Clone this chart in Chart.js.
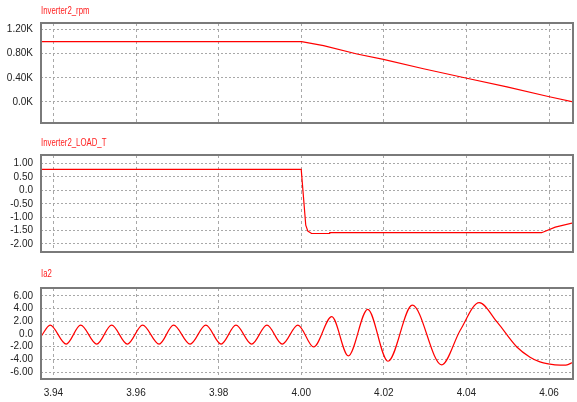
<!DOCTYPE html>
<html>
<head>
<meta charset="utf-8">
<script src="https://cdn.jsdelivr.net/npm/chart.js@4"></script>
<style>
  body { margin: 0; background: #fff; }
  #wrap { position: relative; width: 577px; height: 402px; overflow: hidden; }
  canvas { position: absolute; left: 0; }
  .ttl { position: absolute; left: 41px; font: 10px "Liberation Sans", sans-serif; color: #ff2020; line-height: 12px;
         transform: scaleX(0.78); transform-origin: left center; white-space: nowrap; }
</style>
</head>
<body>
<div id="wrap">
  <canvas id="c1" width="577" height="137" style="top:0"></canvas>
  <canvas id="c2" width="577" height="140" style="top:126px"></canvas>
  <canvas id="c3" width="577" height="146" style="top:256px"></canvas>
  <div class="ttl" style="top:5px">Inverter2_rpm</div>
  <div class="ttl" style="top:137px">Inverter2_LOAD_T</div>
  <div class="ttl" style="top:268px">Ia2</div>
</div>
<script>
// shared time axis
const xTicks = [3.94, 3.96, 3.98, 4.00, 4.02, 4.04, 4.06];
const xLabels = ["3.94", "3.96", "3.98", "4.00", "4.02", "4.04", "4.06"];

// Inverter2_rpm
const rpmTime = [3.937, 4.0001, 4.0054, 4.0135, 4.0199, 4.0296, 4.0401, 4.0498, 4.0598, 4.0659];
const rpmValue = [1000, 1000, 935, 795, 705, 550, 393, 250, 90, 0];
const rpmTicks = [0, 400, 800, 1200];
const rpmLabels = ["0.0K", "0.40K", "0.80K", "1.20K"];

// Inverter2_LOAD_T
const loadTime = [3.937, 4.0000, 4.0011, 4.0016, 4.0025, 4.0068, 4.0069, 4.0582, 4.0615, 4.0659];
const loadValue = [0.78, 0.78, -1.30, -1.52, -1.61, -1.61, -1.58, -1.58, -1.37, -1.21];
const loadTicks = [-2, -1.5, -1, -0.5, 0, 0.5, 1];
const loadLabels = ["-2.00", "-1.50", "-1.00", "-0.50", "0.0", "0.50", "1.00"];

// Ia2
const iaTime = [3.9371, 3.9392, 3.9431, 3.9466, 3.9505, 3.9541, 3.9579, 3.9616, 3.9656,
  3.9691, 3.9731, 3.9769, 3.9806, 3.9842, 3.9880, 3.9917, 3.9954, 3.9992, 4.0030,
  4.0074, 4.0114, 4.0161, 4.0210, 4.0269, 4.0340, 4.0385, 4.0431, 4.0474, 4.0522,
  4.0554, 4.0578, 4.0598, 4.0627, 4.0641, 4.0658];
const iaValue = [-0.3, 1.4, -1.6, 1.4, -1.6, 1.4, -1.6, 1.4, -1.6,
  1.4, -1.6, 1.4, -1.6, 1.4, -1.6, 1.4, -1.6, 1.4, -2.05,
  2.75, -3.45, 3.9, -4.3, 4.55, -4.88, 0.6, 4.96, 1.9, -2.05,
  -3.65, -4.4, -4.7, -4.9, -4.9, -4.45];
const iaTicks = [-6, -4, -2, 0, 2, 4, 6];
const iaLabels = ["-6.00", "-4.00", "-2.00", "0.0", "2.00", "4.00", "6.00"];

const tickFont = { family: "'Liberation Sans', sans-serif", size: 10 };

const framePlugin = {
  id: "frame",
  afterDraw(chart) {
    const a = chart.chartArea, ctx = chart.ctx;
    ctx.save();
    ctx.strokeStyle = "#7a7a7a";
    ctx.lineWidth = 2;
    ctx.strokeRect(a.left, a.top, a.right - a.left, a.bottom - a.top);
    ctx.restore();
  }
};

function makePanel(id, times, values, yMin, yMax, yTicks, yLabels, padTop, padBottom, showX, smooth) {
  const pts = times.map((t, i) => ({ x: t, y: values[i] }));
  new Chart(document.getElementById(id), {
    type: "line",
    data: {
      datasets: [{
        data: pts,
        borderColor: "#ff0000",
        borderWidth: 1.2,
        pointRadius: 0,
        cubicInterpolationMode: smooth ? "monotone" : "default",
        tension: 0
      }]
    },
    options: {
      responsive: false,
      animation: false,
      layout: { padding: { top: padTop, bottom: padBottom, left: 0, right: 4 } },
      plugins: { legend: { display: false }, tooltip: { enabled: false } },
      scales: {
        x: {
          type: "linear",
          min: 3.937,
          max: 4.0658,
          afterBuildTicks: (s) => { s.ticks = xTicks.map(v => ({ value: v })); },
          afterFit: (s) => { s.height = showX ? 23 : 0; },
          ticks: {
            display: showX,
            padding: 8,
            color: "#222",
            font: tickFont,
            maxRotation: 0,
            callback: (v) => xLabels[xTicks.indexOf(v)] || ""
          },
          grid: { color: "#a8a8a8", drawTicks: false },
          border: { display: false, dash: [3, 3] }
        },
        y: {
          min: yMin,
          max: yMax,
          afterBuildTicks: (s) => { s.ticks = yTicks.map(v => ({ value: v })); },
          afterFit: (s) => { s.width = 41; },
          ticks: {
            padding: 8,
            color: "#222",
            font: tickFont,
            callback: (v) => yLabels[yTicks.indexOf(v)] || ""
          },
          grid: { color: "#a8a8a8", drawTicks: false },
          border: { display: false, dash: [2, 2] }
        }
      }
    },
    plugins: [framePlugin]
  });
}

makePanel("c1", rpmTime, rpmValue, -350, 1310, rpmTicks, rpmLabels, 23, 4, false, false);
makePanel("c2", loadTime, loadValue, -2.3, 1.32, loadTicks, loadLabels, 29, 3, false, false);
makePanel("c3", iaTime, iaValue, -7.1, 7.26, iaTicks, iaLabels, 32, 0, true, true);
</script>
</body>
</html>
